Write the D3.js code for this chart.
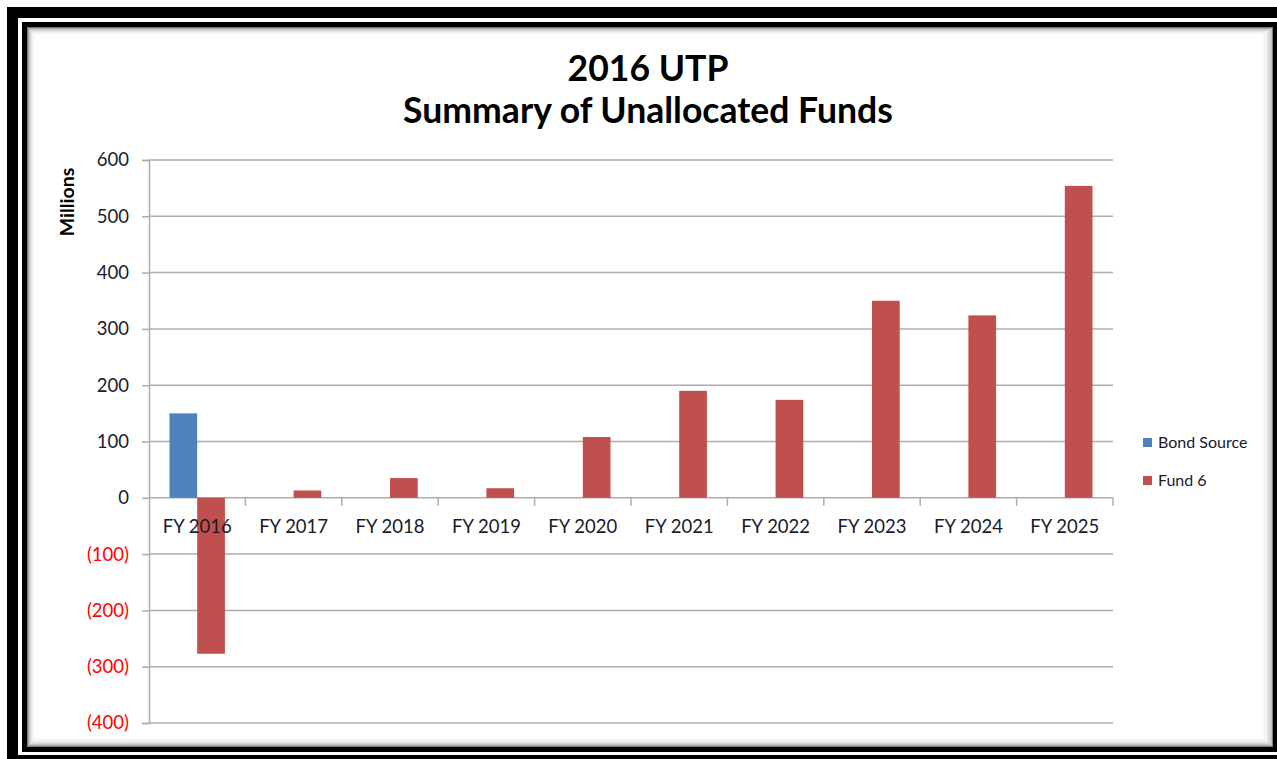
<!DOCTYPE html>
<html>
<head>
<meta charset="utf-8">
<script src="https://cdn.jsdelivr.net/npm/d3@7"></script>
<style>
html,body{margin:0;padding:0;background:#fff;}
svg{display:block;}
text{font-family:Lato,"Open Sans",sans-serif;}
</style>
</head>
<body>
<svg id="chart" width="1277" height="759"></svg>
<script>
const categories = ["FY 2016","FY 2017","FY 2018","FY 2019","FY 2020","FY 2021","FY 2022","FY 2023","FY 2024","FY 2025"];
const seriesNames = ["Bond Source","Fund 6"];
const bondSource = [150, 0, 0, 0, 0, 0, 0, 0, 0, 0];
const fund6 = [-277, 13, 35, 17, 108, 190, 174, 350, 324, 554];
const yTicks = [-400,-300,-200,-100,0,100,200,300,400,500,600];
const seriesColors = ["#4F81BD","#C0504D"];
const titleLines = ["2016 UTP","Summary of Unallocated Funds"];
const yAxisTitle = "Millions";

const svg = d3.select("#chart");
const W = 1277, H = 759;

// ---- frame ----
svg.append("rect").attr("x",0).attr("y",0).attr("width",W).attr("height",H).attr("fill","#fff");
svg.append("rect").attr("x",7).attr("y",7).attr("width",W).attr("height",H).attr("fill","#000");
svg.append("rect").attr("x",18).attr("y",18).attr("width",W).attr("height",737).attr("fill","#fff");
svg.append("rect").attr("x",22).attr("y",22).attr("width",W).attr("height",730).attr("fill","#000");
const px0 = 27, py0 = 27, px1 = 1273, py1 = 747;
svg.append("rect").attr("x",px0).attr("y",py0).attr("width",px1-px0).attr("height",py1-py0).attr("fill","#fff");
// inner shadow
for (let i = 0; i < 9; i++) {
  const op = 0.5 * Math.pow(0.68, i);
  svg.append("rect")
    .attr("x", px0 + i*0.8 + 0.5).attr("y", py0 + i*0.8 + 0.5)
    .attr("width", (px1 - px0) - i*0.8 - i*1.3 - 1)
    .attr("height", (py1 - py0) - i*0.8 - i*1.0 - 1)
    .attr("fill","none").attr("stroke","#000").attr("stroke-opacity",op).attr("stroke-width",1);
}

// ---- scales ----
const plotL = 149, plotR = 1113, plotT = 160, plotB = 723;
const y = d3.scaleLinear().domain([-400,600]).range([plotB, plotT]);
const x0 = d3.scaleBand().domain(categories).range([plotL, plotR]).paddingInner(0).paddingOuter(0);
const x1 = d3.scaleBand().domain(seriesNames).range([0, x0.bandwidth()]).paddingInner(0).paddingOuter(0.74);
const fmt = v => v < 0 ? "(" + Math.abs(v) + ")" : String(v);

// gridlines
svg.append("g").selectAll("line").data(yTicks).join("line")
  .attr("x1", plotL).attr("x2", plotR)
  .attr("y1", d => y(d)).attr("y2", d => y(d))
  .attr("stroke","#ADADAD").attr("stroke-width",1.5);

// y axis
const yAxis = d3.axisLeft(y).tickValues(yTicks).tickFormat(fmt).tickSize(7).tickPadding(13);
const gy = svg.append("g").attr("transform", `translate(${plotL},0)`).call(yAxis);
gy.select(".domain").attr("stroke","#ADADAD").attr("stroke-width",1.5);
gy.selectAll(".tick line").attr("stroke","#ADADAD").attr("stroke-width",1.5);
gy.selectAll(".tick text")
  .attr("font-size", 18.5).attr("font-family","Lato, sans-serif")
  .attr("fill", d => d < 0 ? "#FF0000" : "#1a1a2a");

// bars
const data = categories.map((c, i) => ({cat: c, vals: [bondSource[i], fund6[i]]}));
const gBars = svg.append("g");
data.forEach(d => {
  d.vals.forEach((v, j) => {
    if (v === 0) return;
    gBars.append("rect")
      .attr("x", x0(d.cat) + x1(seriesNames[j]))
      .attr("width", x1.bandwidth())
      .attr("y", y(Math.max(0, v)))
      .attr("height", Math.abs(y(v) - y(0)))
      .attr("fill", seriesColors[j]);
  });
});

// x axis at zero
const xAxis = d3.axisBottom(x0).tickSize(0).tickPadding(22);
const gx = svg.append("g").attr("transform", `translate(0,${y(0)})`).call(xAxis);
gx.select(".domain").remove();
gx.selectAll(".tick text").attr("font-size", 18.5).attr("font-family","Lato, sans-serif").attr("fill","#1a1a2a");
// category boundary ticks
const bounds = categories.slice(1).map(c => x0(c)).concat([plotR]);
svg.append("g").selectAll("line").data(bounds).join("line")
  .attr("x1", d => d).attr("x2", d => d)
  .attr("y1", y(0)).attr("y2", y(0) + 8)
  .attr("stroke","#ADADAD").attr("stroke-width",1.5);

// title
const tg = svg.append("g");
const t1 = tg.append("text").attr("x", 648).attr("y", 81).attr("text-anchor","middle")
  .attr("font-weight","bold").attr("font-size", 30).attr("fill","#000").text(titleLines[0]);
const t2 = tg.append("text").attr("x", 648).attr("y", 123).attr("text-anchor","middle")
  .attr("font-weight","bold").attr("font-size", 30).attr("fill","#000").text(titleLines[1]);
// fit second line to reference width
const w2 = t2.node().getComputedTextLength();
const fs = 30 * 490 / w2;
t1.attr("font-size", fs); t2.attr("font-size", fs);

// y axis title
svg.append("text").attr("transform","translate(74,202) rotate(-90)")
  .attr("text-anchor","middle").attr("font-weight","bold").attr("font-size",19.5).attr("fill","#000")
  .text(yAxisTitle);

// legend
const legY = [442, 480];
const lg = svg.append("g");
seriesNames.forEach((s, i) => {
  lg.append("rect").attr("x",1143).attr("y",legY[i]-4).attr("width",9).attr("height",9).attr("fill",seriesColors[i]);
  lg.append("text").attr("x",1158).attr("y",legY[i]).attr("dy","0.36em")
    .attr("font-size",16).attr("fill","#1a1a2a").text(s);
});
</script>
</body>
</html>
